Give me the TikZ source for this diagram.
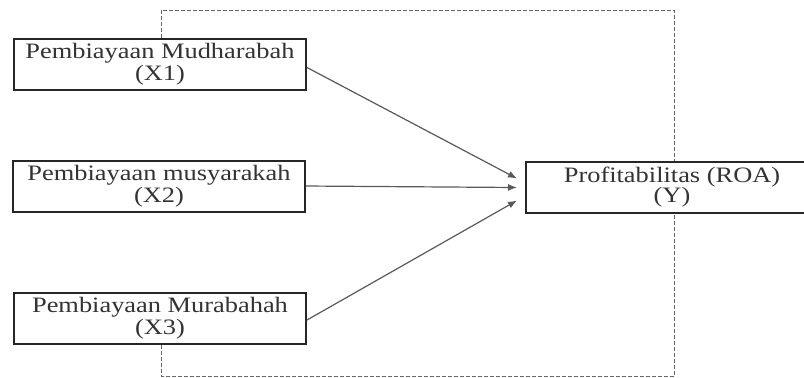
\documentclass[tikz,border=0pt]{standalone}
\usepackage{fontspec}
\setmainfont[FakeStretch=1.2]{Liberation Serif}
\usepackage{tikz}
\usetikzlibrary{arrows.meta}

\begin{document}
\begin{tikzpicture}[x=0.5pt, y=-0.5pt,
		var/.style={rectangle, draw=black!85, line width=1pt, fill=white,
			minimum width=146pt, minimum height=25.5pt, inner sep=0pt,
			align=center, text=black!80, font=\fontsize{11}{10}\selectfont},
		frame/.style={draw=black!60, line width=0.5pt, dash pattern=on 2pt off 1pt},
		link/.style={draw=black!65, line width=0.6pt, -{Latex[length=4.5pt, width=3.5pt]}}]
\useasboundingbox (0,0) rectangle (804,377);
\node[var] (x1) at (160,64.5) {Pembiayaan Mudharabah\\(X1)};
\node[var] (x2) at (159,186) {Pembiayaan musyarakah\\(X2)};
\node[var] (x3) at (160,318) {Pembiayaan Murabahah\\(X3)};
\node[var] (y) at (672,187.5) {Profitabilitas (ROA)\\(Y)};

% dashed frame, from box to box
\coordinate (tl) at (161,10);
\coordinate (tr) at (674,10);
\coordinate (bl) at (161,376);
\coordinate (br) at (674,376);
\draw[frame] (x1.north -| tl) -- (tl) -- (tr) -- (y.north -| tr);
\draw[frame] (x3.south -| bl) -- (bl) -- (br) -- (y.south -| br);

\draw[link] ([yshift=-1.5pt]x1.east) -- ([shift={(-4pt,4.5pt)}]y.west);
\draw[link] (x2.east) -- ([xshift=-4pt]y.west);
\draw[link] ([yshift=-1pt]x3.east) -- ([shift={(-4pt,-6.5pt)}]y.west);
\end{tikzpicture}
\end{document}
